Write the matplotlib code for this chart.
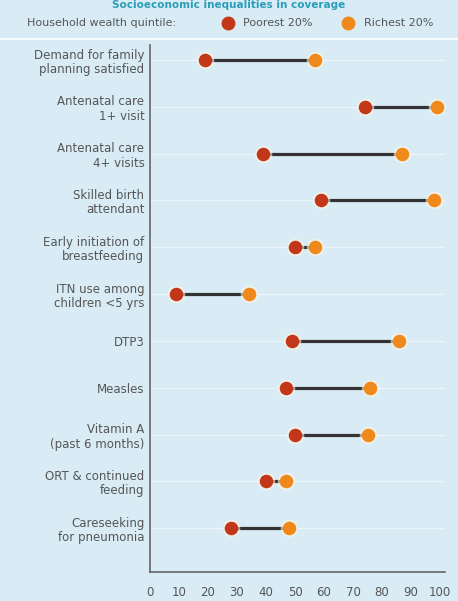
import numpy as np
import matplotlib
matplotlib.use('Agg')
import matplotlib.pyplot as plt
from matplotlib.lines import Line2D

categories = ['Demand for family\nplanning satisfied', 'Antenatal care\n1+ visit',
              'Antenatal care\n4+ visits', 'Skilled birth\nattendant',
              'Early initiation of\nbreastfeeding', 'ITN use among\nchildren <5 yrs',
              'DTP3', 'Measles', 'Vitamin A\n(past 6 months)',
              'ORT & continued\nfeeding', 'Careseeking\nfor pneumonia']
poorest = [19, 74, 39, 59, 50, 9, 49, 47, 50, 40, 28]
richest = [57, 99, 87, 98, 57, 34, 86, 76, 75, 47, 48]
xticks = [0, 10, 20, 30, 40, 50, 60, 70, 80, 90, 100]

bg = '#d9ecf6'
c_poor = '#c2371a'
c_rich = '#f0891c'
txt = '#555555'

fig = plt.figure(figsize=(4.58, 6.01), dpi=100)
fig.patch.set_facecolor(bg)
ax = fig.add_axes([0.3275, 0.048, 0.644, 0.877])
ax.set_facecolor(bg)

y = np.arange(len(categories))
for i in range(len(categories)):
    ax.plot([poorest[i], richest[i]], [y[i], y[i]], color='#333333', lw=2.3, zorder=2,
            solid_capstyle='butt')
# soft halo behind dots
ax.scatter(poorest, y, s=160, color='#fff4e0', alpha=0.6, zorder=3, linewidths=0)
ax.scatter(richest, y, s=160, color='#fff4e0', alpha=0.6, zorder=3, linewidths=0)
ax.scatter(poorest, y, s=95, color=c_poor, zorder=4, linewidths=0)
ax.scatter(richest, y, s=95, color=c_rich, zorder=4, linewidths=0)

ax.set_xlim(0, 101.7)
ax.set_ylim(len(categories) - 1 + 0.94, -0.32)
ax.set_yticks(y)
ax.set_yticklabels(categories, fontsize=8.5, color=txt, linespacing=1.15)
ax.set_xticks(xticks)
ax.set_xticklabels([str(t) for t in xticks], fontsize=8.5, color=txt)
ax.tick_params(axis='both', length=0)
ax.tick_params(axis='x', pad=10)
ax.tick_params(axis='y', pad=4)
for s in ['top', 'right']:
    ax.spines[s].set_visible(False)
for s in ['left', 'bottom']:
    ax.spines[s].set_color('#666666')
    ax.spines[s].set_linewidth(1.2)
for yy in y:
    ax.axhline(yy, color='white', lw=0.8, alpha=0.5, zorder=1)

# title and legend row
fig.text(0.5, 0.9995, 'Socioeconomic inequalities in coverage', ha='center', va='top',
         fontsize=7.5, color='#2a9db8', fontweight='bold')
ly = 0.962
fig.text(0.06, ly, 'Household wealth quintile:', ha='left', va='center',
         fontsize=8, color=txt)
fig.add_artist(Line2D([0.498], [ly], marker='o', markersize=9, color=c_poor,
                      transform=fig.transFigure))
fig.text(0.53, ly, 'Poorest 20%', ha='left', va='center', fontsize=8, color=txt)
fig.add_artist(Line2D([0.76], [ly], marker='o', markersize=9, color=c_rich,
                      transform=fig.transFigure))
fig.text(0.795, ly, 'Richest 20%', ha='left', va='center', fontsize=8, color=txt)
fig.add_artist(Line2D([0.0, 1.0], [0.935, 0.935], color='white', lw=1.2,
                      transform=fig.transFigure))

fig.savefig('out.png', dpi=100, facecolor=bg)
